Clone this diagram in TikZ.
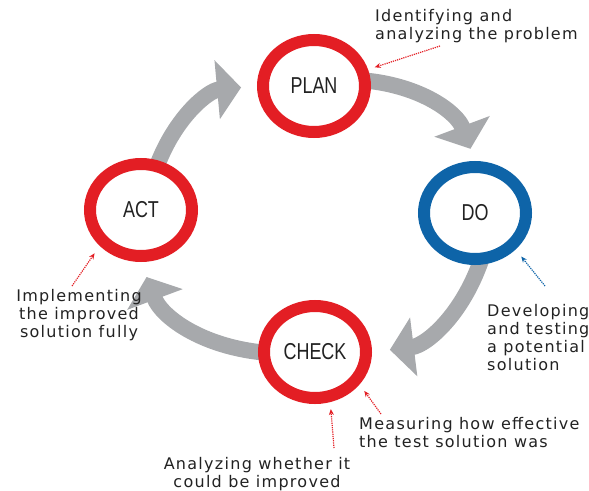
\documentclass[tikz,border=0pt]{standalone}
\usepackage{fontspec}
\usetikzlibrary{arrows.meta,calc,positioning,shapes.geometric,backgrounds}
\newfontfamily\labelfont[FakeStretch=0.78]{Liberation Sans}
\newfontfamily\notefont[LetterSpace=8]{DejaVu Sans}
\definecolor{pdcared}{HTML}{E31E24}
\definecolor{pdcablue}{HTML}{0E64A8}
\definecolor{pdcagray}{HTML}{A7A9AC}
\definecolor{pdcatext}{HTML}{222222}
\tikzset{
  stage/.style={ellipse,draw=#1,line width=12pt,fill=white,minimum width=102pt,
    minimum height=92pt,inner sep=0pt,text=pdcatext,font=\labelfont\fontsize{23}{23}\selectfont},
  note/.style={inner sep=0pt,text=pdcatext,font=\notefont\fontsize{16}{18}\selectfont},
  cyclearrow/.style={pdcagray,line width=16pt,-{Triangle[width=58pt,length=24pt]}},
  pointer/.style={#1,line width=1.2pt,densely dotted,-{Stealth[length=6pt,width=5pt]}}
}
\begin{document}
\begin{tikzpicture}[x=1pt,y=-1pt]
  \useasboundingbox (0,0) rectangle (589,490);
  \node[stage=pdcared] (plan) at (314,86) {PLAN};
  \node[stage=pdcablue] (do) at (475,213) {DO};
  \node[stage=pdcared] (check) at (315,352) {CHECK};
  \node[stage=pdcared] (act) at (141,210) {ACT};
  \begin{scope}[on background layer]
    \draw[cyclearrow,shorten <=-6pt,shorten >=16pt] (act.70) to[bend left=32] (plan.west);
    \draw[cyclearrow,shorten <=-6pt,shorten >=13pt] (plan.5) to[bend left=32] (do.north);
    \draw[cyclearrow,shorten <=-6pt,shorten >=18pt] (do.-85) to[bend left=32] (check.east);
    \draw[cyclearrow,shorten <=-6pt,shorten >=16pt] (check.west) to[bend left=32] (act.south);
  \end{scope}
  \node[note,anchor=north west,align=left] (planNote) at (375,9) {Identifying and\\analyzing the problem};
  \node[note,anchor=north west,align=left] (doNote) at (487,304) {Developing\\and testing\\a potential\\solution};
  \node[note,anchor=north,align=center] (actNote) at (79,289) {Implementing\\the improved\\solution fully};
  \node[note,anchor=north west,align=left] (measureNote) at (359,417) {Measuring how effective\\the test solution was};
  \node[note,anchor=north,align=center] (improveNote) at (257,457) {Analyzing whether it\\could be improved};
  \coordinate (planTail) at (440,46);
  \coordinate (actTail) at (72,286);
  \coordinate (doTail) at (545,286);
  \coordinate (improveTail) at (334,448);
  \coordinate (measureTail) at (381,414);
  \draw[pointer=pdcared,shorten >=7pt] (planTail) -- (plan.17);
  \draw[pointer=pdcared,shorten >=9pt] (actTail) -- (act.221);
  \draw[pointer=pdcablue,shorten >=9pt] (doTail) -- (do.-42);
  \draw[pointer=pdcared,shorten >=7pt] (improveTail) -- (check.-73);
  \draw[pointer=pdcared,shorten >=8pt] (measureTail) -- (check.-36);
\end{tikzpicture}
\end{document}
